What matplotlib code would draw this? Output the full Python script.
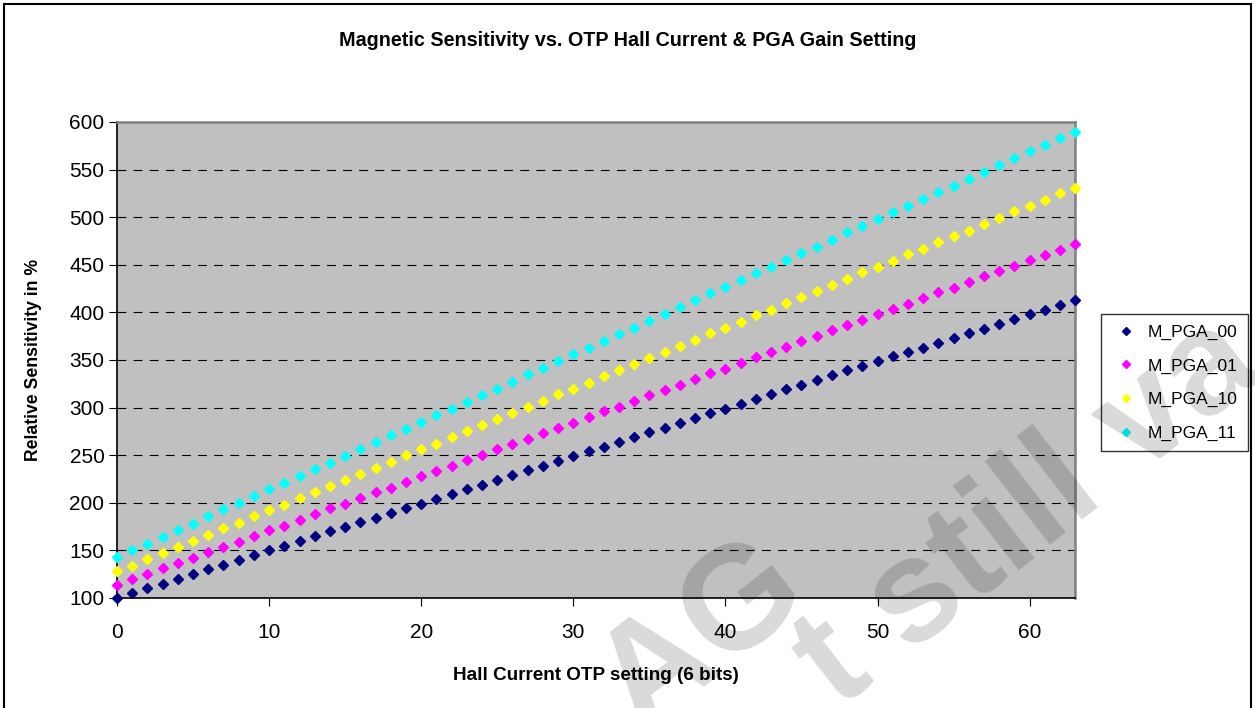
import numpy as np
import matplotlib.pyplot as plt
from matplotlib.patches import Rectangle

plt.rcParams['font.family'] = ['Liberation Sans', 'DejaVu Sans']

# Hall current OTP setting (6 bits)
hall_setting = list(range(64))

m_pga_00 = [100, 105, 110, 115, 120, 125, 130, 135, 140, 145, 150, 155, 160, 165, 170, 175,
            180, 184, 189, 194, 199, 204, 209, 214, 219, 224, 229, 234, 239, 244, 249, 254,
            259, 264, 269, 274, 279, 284, 289, 294, 299, 304, 309, 314, 319, 324, 329, 334,
            339, 344, 349, 354, 358, 363, 368, 373, 378, 383, 388, 393, 398, 403, 408, 413]
m_pga_01 = [114, 120, 125, 131, 137, 142, 148, 154, 159, 165, 171, 176, 182, 188, 194, 199,
            205, 211, 216, 222, 228, 233, 239, 245, 250, 256, 262, 267, 273, 279, 284, 290,
            296, 301, 307, 313, 318, 324, 330, 336, 341, 347, 353, 358, 364, 370, 375, 381,
            387, 392, 398, 404, 409, 415, 421, 426, 432, 438, 443, 449, 455, 460, 466, 472]
m_pga_10 = [128, 134, 141, 147, 154, 160, 166, 173, 179, 186, 192, 198, 205, 211, 218, 224,
            230, 237, 243, 250, 256, 262, 269, 275, 282, 288, 294, 301, 307, 314, 320, 326,
            333, 339, 346, 352, 358, 365, 371, 378, 384, 390, 397, 403, 410, 416, 422, 429,
            435, 442, 448, 454, 461, 467, 474, 480, 486, 493, 499, 506, 512, 518, 525, 531]
m_pga_11 = [143, 150, 157, 164, 171, 178, 186, 193, 200, 207, 214, 221, 228, 235, 242, 249,
            257, 264, 271, 278, 285, 292, 299, 306, 313, 320, 327, 335, 342, 349, 356, 363,
            370, 377, 384, 391, 398, 406, 413, 420, 427, 434, 441, 448, 455, 462, 469, 476,
            484, 491, 498, 505, 512, 519, 526, 533, 540, 547, 555, 562, 569, 576, 583, 590]

series_names = ['M_PGA_00', 'M_PGA_01', 'M_PGA_10', 'M_PGA_11']
series_values = [m_pga_00, m_pga_01, m_pga_10, m_pga_11]
series_colors = ['#000080', '#FF00FF', '#FFFF00', '#00FFFF']

x_ticks = [0, 10, 20, 30, 40, 50, 60]
y_ticks = [100, 150, 200, 250, 300, 350, 400, 450, 500, 550, 600]

fig = plt.figure(figsize=(12.55, 7.08), dpi=100)
ax = fig.add_axes([0.0932, 0.1554, 0.7636, 0.6723])
ax.set_facecolor('#C0C0C0')

for name, vals, col in zip(series_names, series_values, series_colors):
    ax.plot(hall_setting, vals, linestyle='none', marker='D', markersize=5.5,
            color=col, markeredgecolor=col, label=name, clip_on=False, zorder=3)

ax.set_xlim(0, 63)
ax.set_ylim(100, 600)
ax.set_xticks(x_ticks)
ax.set_yticks(y_ticks)
ax.tick_params(axis='x', direction='out', length=6, pad=12, labelsize=15)
ax.tick_params(axis='y', direction='out', length=6, pad=3, labelsize=15)

# dashed grid lines between the end ticks
for y in y_ticks[1:-1]:
    ax.axhline(y, color='black', linestyle=(0, (8, 6.5)), linewidth=0.8, zorder=1)

for side in ['top', 'right']:
    ax.spines[side].set_color('#808080')
    ax.spines[side].set_linewidth(1.8)
for side in ['left', 'bottom']:
    ax.spines[side].set_color('black')
    ax.spines[side].set_linewidth(1.2)

ax.set_xlabel('Hall Current OTP setting (6 bits)', fontsize=13.6, fontweight='bold', labelpad=18)
ax.set_ylabel('Relative Sensitivity in %', fontsize=12.7, fontweight='bold', labelpad=20)
fig.text(0.5, 0.943, 'Magnetic Sensitivity vs. OTP Hall Current & PGA Gain Setting',
         ha='center', va='center', fontsize=14.2, fontweight='bold')

leg = ax.legend(loc='center left', bbox_to_anchor=(1.018, 0.452), frameon=True, fontsize=12.5,
                fancybox=False, edgecolor='black', handlelength=1.6, handletextpad=0.5,
                labelspacing=1.05, borderpad=0.6, markerscale=0.8)
leg.get_frame().set_linewidth(1.0)

# watermark
wm = dict(fontsize=105, fontweight='bold', color='black', alpha=0.15, rotation=38,
          ha='center', va='center', zorder=10)
fig.text(0.56, 0.10, 'AG', **wm)
fig.text(0.82, 0.275, 't still va', **wm)

fig.add_artist(Rectangle((0.003, -0.01), 0.994, 1.005, transform=fig.transFigure,
                         fill=False, edgecolor='black', linewidth=1.5))

fig.savefig('out.png', dpi=100)
